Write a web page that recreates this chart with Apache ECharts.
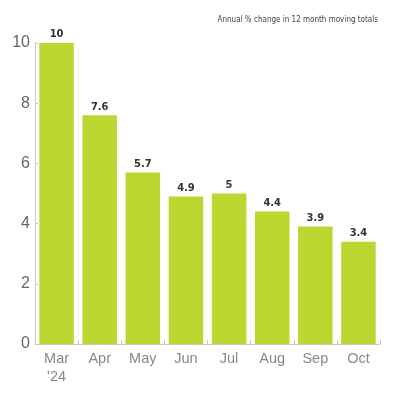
<!DOCTYPE html>
<html>
<head>
<meta charset="utf-8">
<script src="https://cdn.jsdelivr.net/npm/echarts@6/dist/echarts.min.js"></script>
<style>
  html, body { margin: 0; padding: 0; background: #fff; }
  #chart { width: 400px; height: 400px; }
</style>
</head>
<body>
<div id="chart"></div>
<script>
// data
var months = ['Mar\n\'24', 'Apr', 'May', 'Jun', 'Jul', 'Aug', 'Sep', 'Oct'];
var changes = [10, 7.6, 5.7, 4.9, 5, 4.4, 3.9, 3.4];

var chart = echarts.init(document.getElementById('chart'));
chart.setOption({
    animation: false,
    title: {
        text: 'Annual % change in 12 month moving totals',
        right: 17,
        top: 11,
        textStyle: {
            fontFamily: '"DejaVu Sans Condensed", sans-serif',
            fontSize: 8,
            fontWeight: 'normal',
            color: '#444'
        }
    },
    grid: { left: 35, right: 20, top: 43, bottom: 56 },
    xAxis: {
        type: 'category',
        data: months,
        axisLine: { lineStyle: { color: '#c8c8c8' } },
        axisTick: { show: true, inside: true, length: 4, lineStyle: { color: '#c8c8c8' } },
        axisLabel: {
            color: '#888',
            fontFamily: 'Liberation Sans',
            fontSize: 14.5,
            margin: 6,
            lineHeight: 18
        }
    },
    yAxis: {
        type: 'value',
        min: 0,
        max: 10,
        interval: 2,
        splitLine: { show: false },
        axisLine: { show: true, lineStyle: { color: '#c8c8c8' } },
        axisTick: { show: true, inside: true, length: 3, lineStyle: { color: '#c8c8c8' } },
        axisLabel: {
            color: '#666',
            fontFamily: 'Liberation Sans',
            fontSize: 16,
            margin: 5
        }
    },
    series: [{
        type: 'bar',
        data: changes,
        barCategoryGap: '20%',
        itemStyle: { color: '#bed630' },
        label: {
            show: true,
            position: 'top',
            distance: 3,
            color: '#333',
            fontFamily: '"DejaVu Sans Condensed", sans-serif',
            fontWeight: 'bold',
            fontSize: 11
        }
    }]
});
</script>
</body>
</html>
